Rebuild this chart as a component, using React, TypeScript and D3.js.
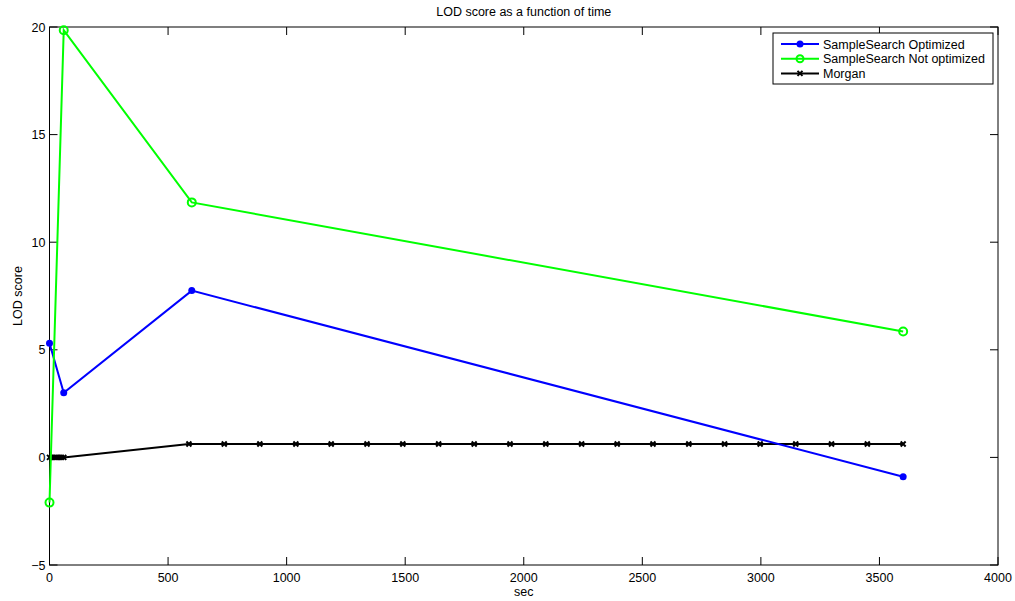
import React from "react";
import * as d3 from "d3";

const optX = [0, 60, 600, 3600];
const optY = [5.3, 3.0, 7.75, -0.9];
const notOptX = [0, 60, 600, 3600];
const notOptY = [-2.1, 19.85, 11.85, 5.85];
const morganX = [0, 10, 20, 30, 40, 50, 60, 588, 737, 887, 1039, 1188, 1339, 1490, 1641, 1791, 1942, 2093, 2244, 2394, 2545, 2696, 2847, 2997, 3147, 3298, 3449, 3600];
const morganY = [0, 0, 0, 0, 0, 0, 0, 0.62, 0.62, 0.62, 0.62, 0.62, 0.62, 0.62, 0.62, 0.62, 0.62, 0.62, 0.62, 0.62, 0.62, 0.62, 0.62, 0.62, 0.62, 0.62, 0.62, 0.62];
const xTicks = [0, 500, 1000, 1500, 2000, 2500, 3000, 3500, 4000];
const yTicks = [-5, 0, 5, 10, 15, 20];
const seriesNames = ["SampleSearch Optimized", "SampleSearch Not optimized", "Morgan"];

const W = 1015, H = 601;
const L = 49.5, R = 998, T = 27, B = 565;
const font = "'Liberation Sans', Arial, sans-serif";

export default function App() {
  const x = d3.scaleLinear().domain([0, 4000]).range([L, R]);
  const y = d3.scaleLinear().domain([-5, 20]).range([B, T]);
  const line = d3.line<[number, number]>().x(d => x(d[0])).y(d => y(d[1]));
  const opt = optX.map((v, i) => [v, optY[i]] as [number, number]);
  const nopt = notOptX.map((v, i) => [v, notOptY[i]] as [number, number]);
  const mor = morganX.map((v, i) => [v, morganY[i]] as [number, number]);
  const xm = (cx: number, cy: number, k: string) => (
    <path key={k} d={`M${cx - 2.5},${cy - 2.5}L${cx + 2.5},${cy + 2.5}M${cx - 2.5},${cy + 2.5}L${cx + 2.5},${cy - 2.5}`} stroke="#000" strokeWidth={2} />
  );
  const tk = 8;
  return (
    <svg width={W} height={H} style={{ position: "absolute", left: 0, top: 0, background: "#fff" }} fontFamily={font}>
      <rect x={0} y={0} width={W} height={H} fill="#fff" />
      {/* ticks */}
      {xTicks.map(t => (
        <g key={"xt" + t}>
          <line x1={x(t)} x2={x(t)} y1={B} y2={B - tk} stroke="#000" strokeWidth={1} />
          <line x1={x(t)} x2={x(t)} y1={T} y2={T + tk} stroke="#000" strokeWidth={1} />
          <text x={x(t)} y={B + 17} textAnchor="middle" fontSize={12.5} fill="#000">{t}</text>
        </g>
      ))}
      {yTicks.map(t => (
        <g key={"yt" + t}>
          <line x1={L} x2={L + tk} y1={y(t)} y2={y(t)} stroke="#000" strokeWidth={1} />
          <line x1={R} x2={R - tk} y1={y(t)} y2={y(t)} stroke="#000" strokeWidth={1} />
          <text x={L - 4} y={y(t) + 4.5} textAnchor="end" fontSize={12.5} fill="#000">{t === -5 ? "\u22125" : t}</text>
        </g>
      ))}
      <rect x={L} y={T} width={R - L} height={B - T} fill="none" stroke="#000" strokeWidth={1} />
      {/* series */}
      <path d={line(mor) || ""} fill="none" stroke="#000" strokeWidth={2} />
      {mor.map((d, i) => xm(x(d[0]), y(d[1]), "m" + i))}
      <path d={line(opt) || ""} fill="none" stroke="#0000ff" strokeWidth={2} />
      {opt.map((d, i) => <circle key={"o" + i} cx={x(d[0])} cy={y(d[1])} r={3.5} fill="#0000ff" />)}
      <path d={line(nopt) || ""} fill="none" stroke="#00ff00" strokeWidth={2} />
      {nopt.map((d, i) => <circle key={"n" + i} cx={x(d[0])} cy={y(d[1])} r={4} fill="none" stroke="#00ff00" strokeWidth={2} />)}
      {/* labels */}
      <text x={(L + R) / 2} y={16} textAnchor="middle" fontSize={12.5} fill="#000">LOD score as a function of time</text>
      <text x={(L + R) / 2} y={596} textAnchor="middle" fontSize={12.5} fill="#000">sec</text>
      <text transform={`translate(22,${(T + B) / 2}) rotate(-90)`} textAnchor="middle" fontSize={12.5} fill="#000">LOD score</text>
      {/* legend */}
      <g>
        <rect x={773} y={33} width={220} height={51} fill="#fff" stroke="#000" strokeWidth={1} />
        {seriesNames.map((n, i) => {
          const ly = 44 + i * 14.7;
          const colors = ["#0000ff", "#00ff00", "#000"];
          return (
            <g key={n}>
              <line x1={781} x2={819} y1={ly} y2={ly} stroke={colors[i]} strokeWidth={2} />
              {i === 0 && <circle cx={800} cy={ly} r={3.5} fill="#0000ff" />}
              {i === 1 && <circle cx={800} cy={ly} r={3.5} fill="none" stroke="#00ff00" strokeWidth={2} />}
              {i === 2 && xm(800, ly, "lm")}
              <text x={823} y={ly + 4.5} fontSize={12.5} fill="#000">{n}</text>
            </g>
          );
        })}
      </g>
    </svg>
  );
}
